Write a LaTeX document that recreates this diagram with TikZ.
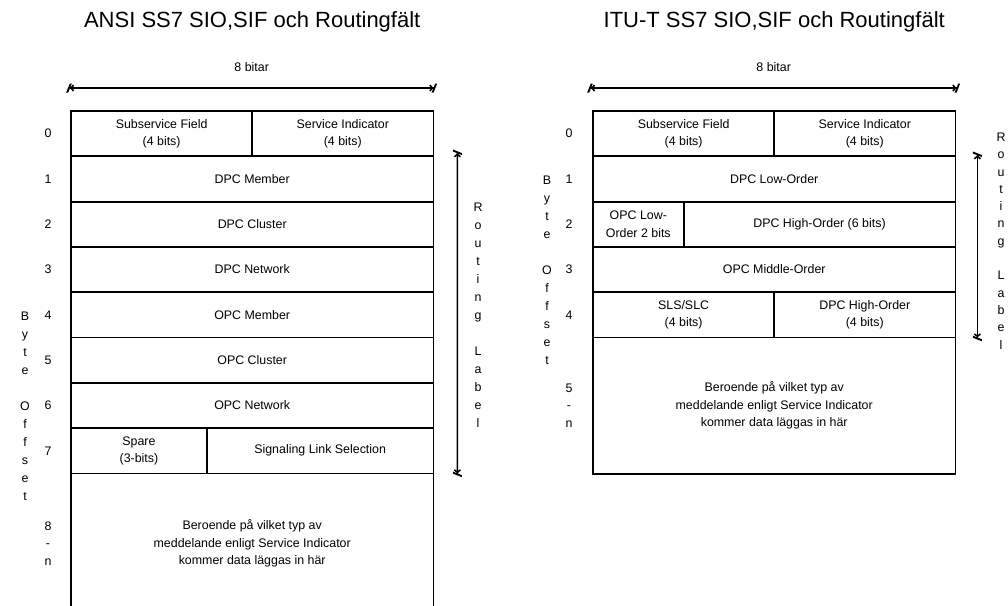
\documentclass[tikz,border=0pt]{standalone}
\usepackage{fontspec}
\setmainfont{Liberation Sans}
\usetikzlibrary{arrows.meta,calc}
\definecolor{ink}{HTML}{000000}
\newcommand{\RowH}{45.3}
\newcommand{\BitW}{45.3}
\newcommand{\TopY}{111}
\newcommand{\AnsiX}{71}
\newcommand{\ItuX}{593}
\newcommand{\BodyFont}{\fontsize{12.4}{17.5}\selectfont}

\begin{document}
\begin{tikzpicture}[x=1pt, y=-1pt, ink,
    field/.style={draw=ink, line width=1.8pt, anchor=north west, inner sep=0pt, outer sep=0pt,
      minimum height=\RowH*1pt, align=center, font=\BodyFont},
    numtext/.style={font=\BodyFont, align=center},
    spell/.style={font=\fontsize{12.4}{#1}\selectfont, align=center},
    heading/.style={font=\fontsize{22}{26}\selectfont},
    dimtip/.tip={Straight Barb[length=2.5pt,width=6pt,line width=1.6pt]Bar[width=9pt,slant=.4,sep=-2pt,line width=2pt]},
    dimline/.style={dimtip-dimtip, line width=1.5pt},
  ]
\useasboundingbox (0,0) rectangle (1008,605);

% --- ANSI ---------------------------------------------------------------------
\node[heading] at (\AnsiX+4*\BitW, 22) {ANSI SS7 SIO,SIF och Routingfält};
\foreach \r/\fields in {
  0/{0/4/{Subservice Field\\(4 bits)}, 4/4/{Service Indicator\\(4 bits)}},
  1/{0/8/{DPC Member}},
  2/{0/8/{DPC Cluster}},
  3/{0/8/{DPC Network}},
  4/{0/8/{OPC Member}},
  5/{0/8/{OPC Cluster}},
  6/{0/8/{OPC Network}},
  7/{0/3/{Spare\\(3-bits)}, 3/5/{Signaling Link Selection}}}
{
  \foreach \s/\b/\t in \fields {
    \node[field, minimum width=\b*\BitW*1pt] (ansi-\r-\s) at (\AnsiX+\s*\BitW, \TopY+\r*\RowH) {\t};
  }
  \node[numtext] at (48, \TopY+\r*\RowH+\RowH/2) {\r};
}
\node[field, minimum width=8*\BitW*1pt, minimum height=140pt] (ansi-data) at (\AnsiX, \TopY+8*\RowH)
  {Beroende på vilket typ av\\meddelande enligt Service Indicator\\kommer data läggas in här};
\node[numtext] at (48, \TopY+8*\RowH+70) {8\\-\\n};

\coordinate (ansi-top-l) at ($(ansi-0-0.north west)+(-1,-23)$);
\coordinate (ansi-top-r) at ($(ansi-0-4.north east)+(0,-23)$);
\draw[dimline] (ansi-top-l) -- (ansi-top-r);
\node[numtext] at ($(ansi-top-l)!0.5!(ansi-top-r)+(0,-21)$) {8 bitar};

\coordinate (ansi-rl-t) at ($(ansi-1-0.north east)+(24,-3)$);
\coordinate (ansi-rl-b) at ($(ansi-7-3.south east)+(24,0)$);
\draw[dimline] (ansi-rl-t) -- (ansi-rl-b);
\node[spell=18] at (478, 315) {R\\o\\u\\t\\i\\n\\g\\[18pt]L\\a\\b\\e\\l};
\node[spell=18] at (25, 406) {B\\y\\t\\e\\[18pt]O\\f\\f\\s\\e\\t};

% --- ITU-T --------------------------------------------------------------------
\node[heading] at (\ItuX+4*\BitW, 22) {ITU-T SS7 SIO,SIF och Routingfält};
\foreach \r/\fields in {
  0/{0/4/{Subservice Field\\(4 bits)}, 4/4/{Service Indicator\\(4 bits)}},
  1/{0/8/{DPC Low-Order}},
  2/{0/2/{OPC Low-\\Order 2 bits}, 2/6/{DPC High-Order (6 bits)}},
  3/{0/8/{OPC Middle-Order}},
  4/{0/4/{SLS/SLC\\(4 bits)}, 4/4/{DPC High-Order\\(4 bits)}}}
{
  \foreach \s/\b/\t in \fields {
    \node[field, minimum width=\b*\BitW*1pt] (itu-\r-\s) at (\ItuX+\s*\BitW, \TopY+\r*\RowH) {\t};
  }
  \node[numtext] at (569, \TopY+\r*\RowH+\RowH/2) {\r};
}
\node[field, minimum width=8*\BitW*1pt, minimum height=136.5pt] (itu-data) at (\ItuX, \TopY+5*\RowH)
  {Beroende på vilket typ av\\meddelande enligt Service Indicator\\kommer data läggas in här};
\node[numtext] at (569, \TopY+5*\RowH+68) {5\\-\\n};

\coordinate (itu-top-l) at ($(itu-0-0.north west)+(-2,-23)$);
\coordinate (itu-top-r) at ($(itu-0-4.north east)+(1,-23)$);
\draw[dimline] (itu-top-l) -- (itu-top-r);
\node[numtext] at ($(itu-top-l)!0.5!(itu-top-r)+(0,-21)$) {8 bitar};

\coordinate (itu-rl-t) at ($(itu-1-0.north east)+(22,-1)$);
\coordinate (itu-rl-b) at ($(itu-4-4.south east)+(22,0)$);
\draw[dimline] (itu-rl-t) -- (itu-rl-b);
\node[spell=17.3] at (1001, 241) {R\\o\\u\\t\\i\\n\\g\\[17.3pt]L\\a\\b\\e\\l};
\node[spell=18] at (547, 270) {B\\y\\t\\e\\[18pt]O\\f\\f\\s\\e\\t};
\end{tikzpicture}
\end{document}
